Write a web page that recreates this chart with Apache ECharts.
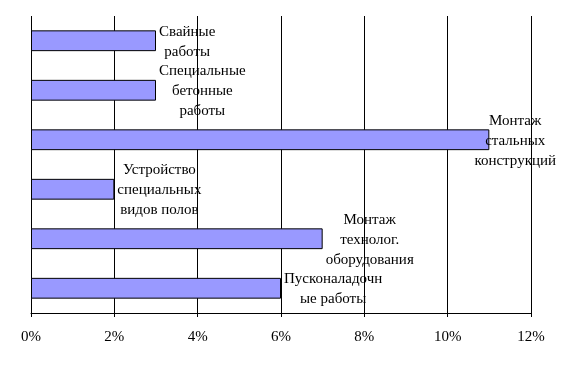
<!DOCTYPE html>
<html><head><meta charset="utf-8">
<script src="https://cdn.jsdelivr.net/npm/echarts@6/dist/echarts.min.js"></script>
<style>html,body{margin:0;padding:0;background:#fff}#c{width:562px;height:367px}</style>
</head><body><div id="c"></div>
<script>
const categories = [
  "Свайные\nработы",
  "Специальные\nбетонные\nработы",
  "Монтаж\nстальных\nконструкций",
  "Устройство\nспециальных\nвидов полов",
  "Монтаж\nтехнолог.\nоборудования",
  "Пусконаладочн\nые работы"
];
const values = [3, 3, 11, 2, 7, 6];
const xTicks = [0, 2, 4, 6, 8, 10, 12];

const chart = echarts.init(document.getElementById('c'), null, {renderer: 'canvas'});
const font = 'Liberation Serif, Times New Roman, serif';
chart.setOption({
  animation: false,
  backgroundColor: '#fff',
  grid: {left: 31, right: 31, top: 16, bottom: 54, containLabel: false},
  xAxis: {
    type: 'value', min: xTicks[0], max: xTicks[xTicks.length - 1], interval: 2,
    axisLine: {show: true, lineStyle: {color: '#000', width: 1}},
    axisTick: {show: true, length: 4, lineStyle: {color: '#000'}},
    splitLine: {show: true, lineStyle: {color: '#000', width: 1}},
    axisLabel: {formatter: '{value}%', color: '#000', fontFamily: font, fontSize: 15, margin: 17}
  },
  yAxis: {
    type: 'category', data: categories, inverse: true,
    axisLine: {show: false}, axisTick: {show: false}, axisLabel: {show: false}, splitLine: {show: false}
  },
  series: [{
    type: 'bar', data: values, barCategoryGap: '58%',
    itemStyle: {color: '#9999FF', borderColor: '#000', borderWidth: 1},
    label: {
      show: true, position: 'right',
      formatter: p => categories[p.dataIndex],
      color: '#000', fontFamily: font, fontSize: 15, lineHeight: 20
    }
  }],
  labelLayout: function (p) {
    const w = p.labelRect.width;
    let cx = p.rect.x + p.rect.width + 3 + w / 2;
    if (cx + w / 2 > 556) cx = 556 - w / 2;
    return {x: cx, y: p.rect.y + p.rect.height / 2 + 1, align: 'center', verticalAlign: 'middle'};
  }
});
</script></body></html>
